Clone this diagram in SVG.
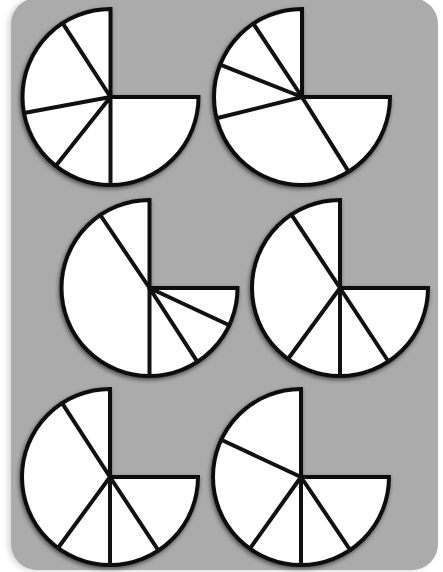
<svg xmlns="http://www.w3.org/2000/svg" width="443" height="572" viewBox="0 0 443 572">
<defs>
<filter id="sh" x="-20%" y="-20%" width="140%" height="140%">
<feDropShadow dx="-1" dy="2" stdDeviation="2.2" flood-color="#000" flood-opacity="0.55"/>
</filter>
<filter id="bgsh" x="-5%" y="-5%" width="110%" height="110%">
<feDropShadow dx="-3" dy="1" stdDeviation="2.5" flood-color="#000" flood-opacity="0.15"/>
</filter>
<path id="pie" d="M0,0 L0,-88 A88,88 0 1 0 88,0 Z"/>
</defs>
<style>
.bg{fill:#ababab}
.body{fill:#fff;stroke:#111;stroke-width:4;stroke-linejoin:miter}
.cut{stroke:#111;stroke-width:4;stroke-linecap:round;fill:none}
</style>
<rect width="443" height="572" fill="#fff"/>
<rect class="bg" x="11" y="-2" width="427" height="572" rx="26" filter="url(#bgsh)"/>
<g id="pie1" transform="translate(110.5,97)">
<use href="#pie" class="body" filter="url(#sh)"/>
<path class="cut" d="M0,0L-47.9,-73.8M0,0L-86.5,16M0,0L-54.8,68.9M0,0L0,88"/>
</g>
<g id="pie2" transform="translate(302,97)">
<use href="#pie" class="body" filter="url(#sh)"/>
<path class="cut" d="M0,0L-48.6,-73.4M0,0L-81.9,-32.3M0,0L-85.4,21.3M0,0L46.6,74.6"/>
</g>
<g id="pie3" transform="translate(149.5,288)">
<use href="#pie" class="body" filter="url(#sh)"/>
<path class="cut" d="M0,0L-49.2,-73M0,0L0,88M0,0L47.9,73.8M0,0L79.8,37.2"/>
</g>
<g id="pie4" transform="translate(340,288)">
<use href="#pie" class="body" filter="url(#sh)"/>
<path class="cut" d="M0,0L-48.6,-73.4M0,0L-52,71M0,0L0,88M0,0L48.4,73.5"/>
</g>
<g id="pie5" transform="translate(110,477)">
<use href="#pie" class="body" filter="url(#sh)"/>
<path class="cut" d="M0,0L-47.9,-73.8M0,0L-52,71M0,0L0,88M0,0L48.4,73.5"/>
</g>
<g id="pie6" transform="translate(301,477)">
<use href="#pie" class="body" filter="url(#sh)"/>
<path class="cut" d="M0,0L-79.8,-37.2M0,0L-51.1,71.6M0,0L0,88M0,0L49.2,73"/>
</g>
<g id="connectors"/>
</svg>
